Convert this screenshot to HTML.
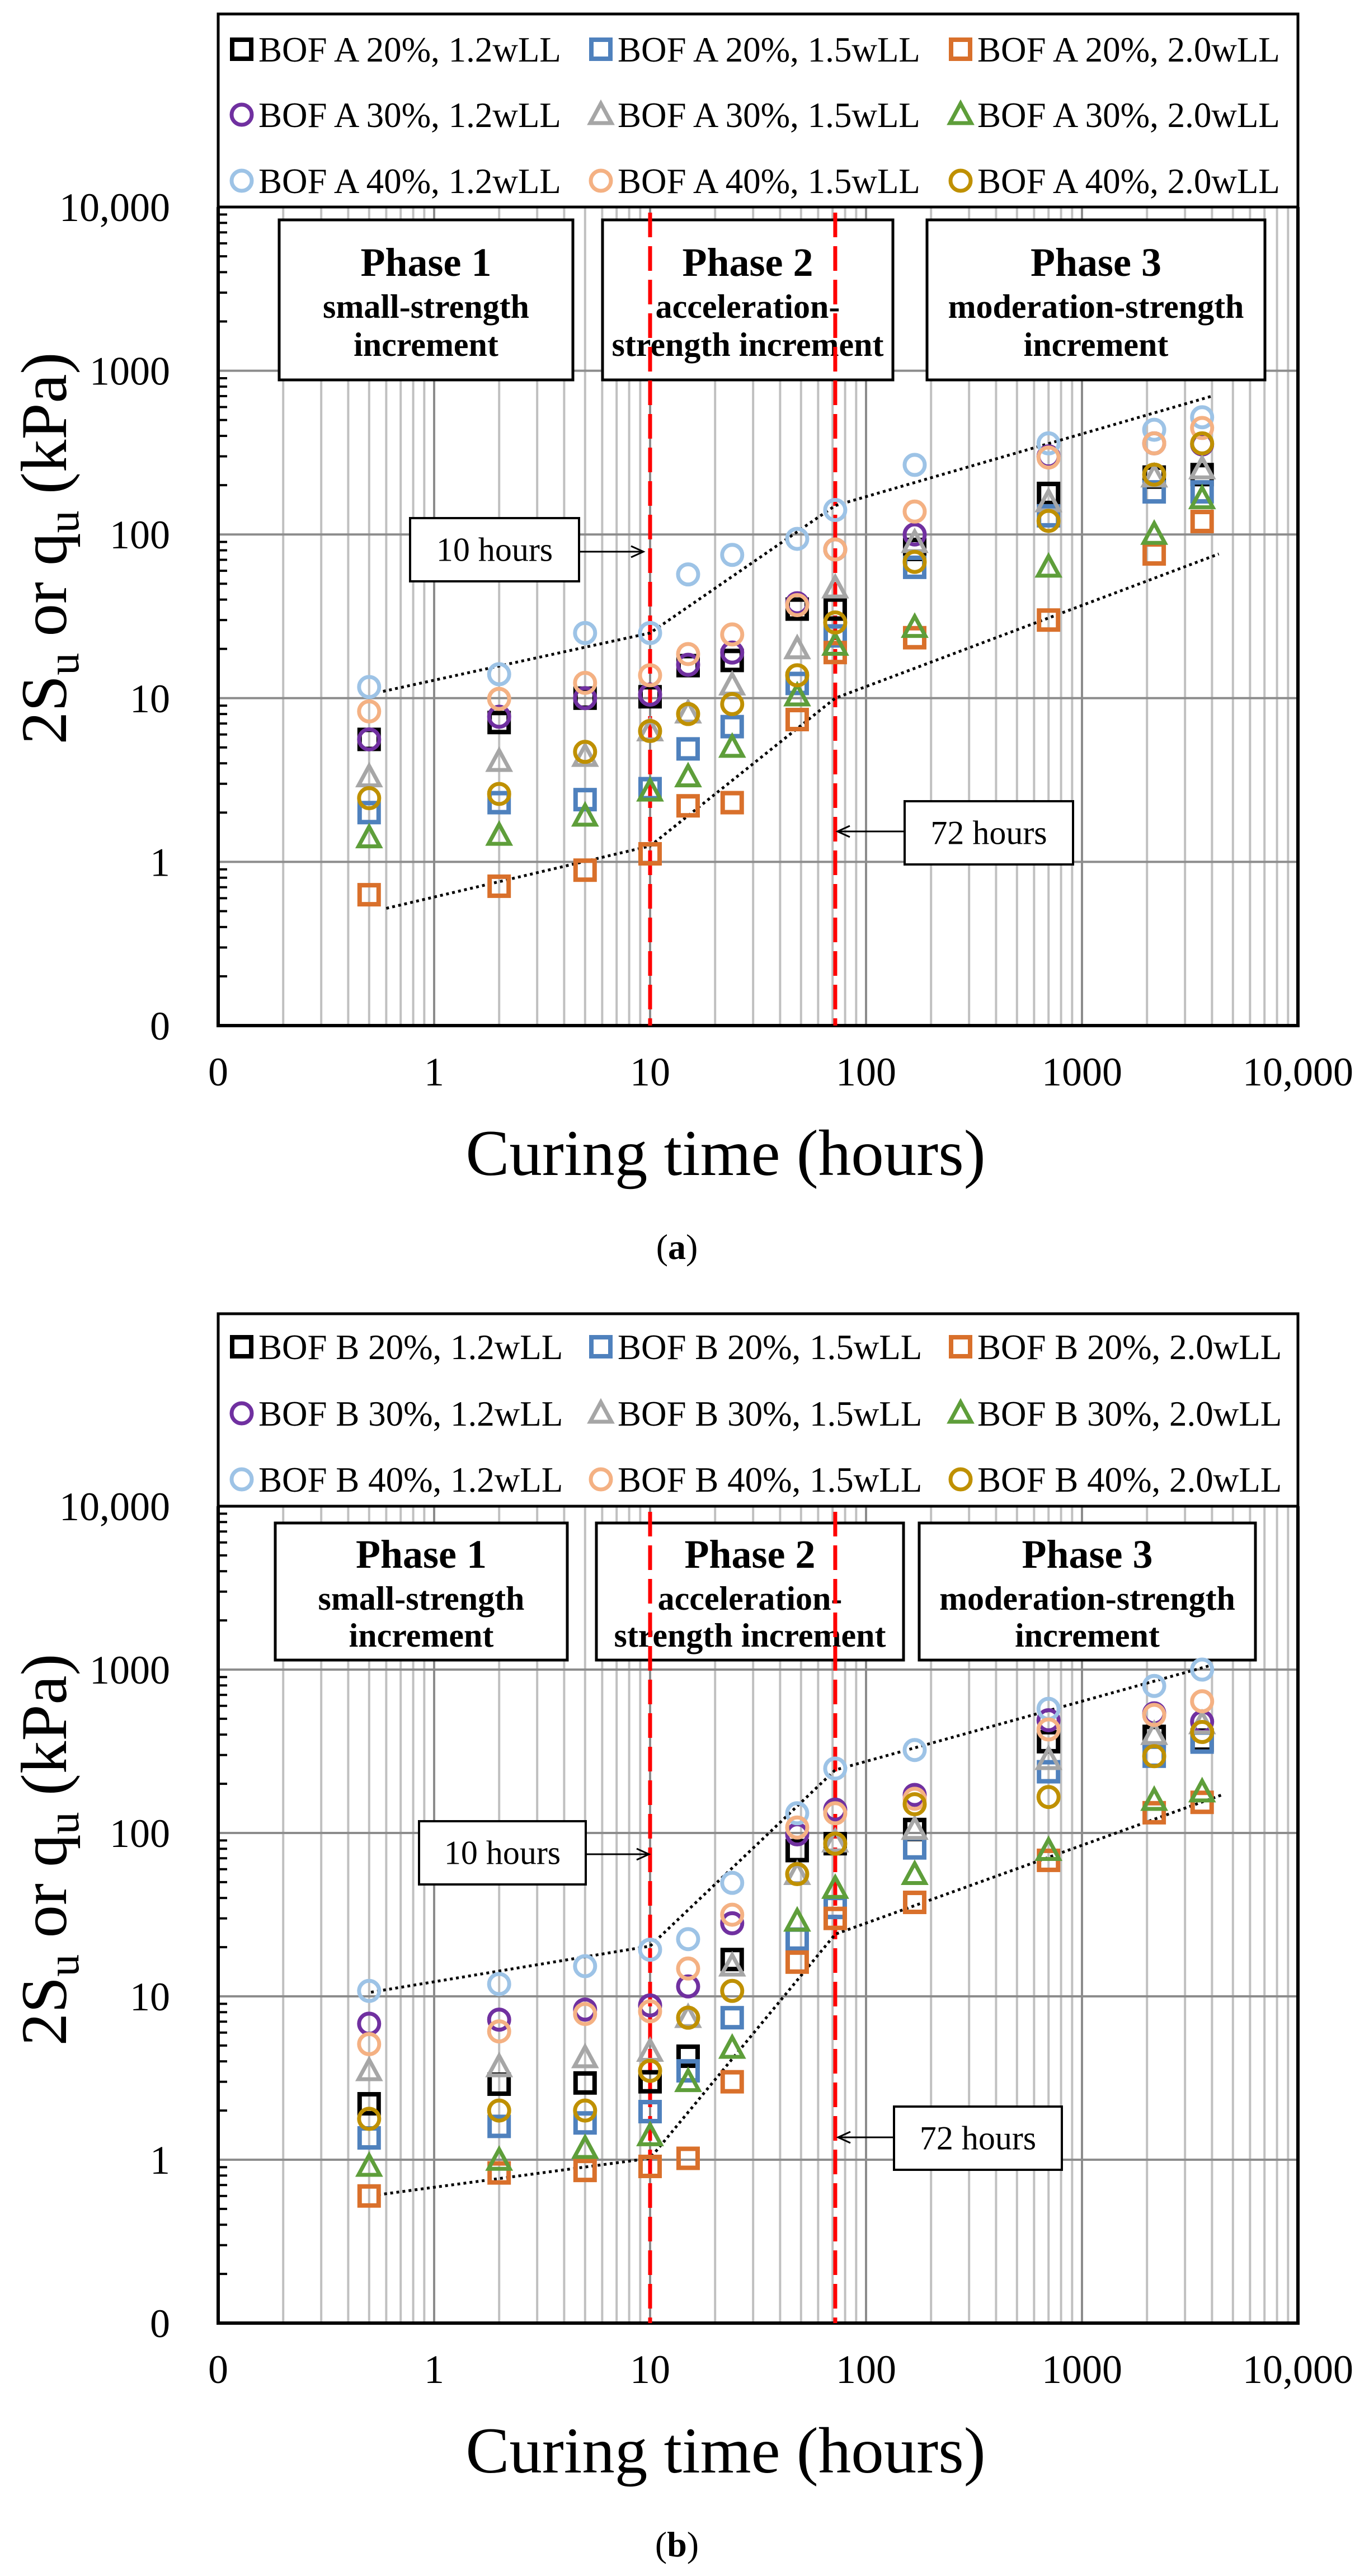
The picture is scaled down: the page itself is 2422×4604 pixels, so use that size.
<!DOCTYPE html>
<html><head><meta charset="utf-8">
<style>
html,body{margin:0;padding:0;background:#fff;}
svg{display:block;font-family:"Liberation Serif","Times New Roman",serif;}
</style></head>
<body>
<svg id="svg" width="2422" height="4604" viewBox="0 0 2422 4604" xmlns="http://www.w3.org/2000/svg"></svg>
<script>
// ---- data ----
const times = [0.5, 2, 5, 10, 15, 24, 48, 72, 168, 700, 2160, 3600];
const xTickLabels = ["0", "1", "10", "100", "1000", "10,000"];
const yTickLabels = ["0", "1", "10", "100", "1000", "10,000"];
const seriesColors = ["#000000","#4F81BD","#D9702B","#7030A0","#A6A6A6","#5E9E3A","#9DC3E6","#F4B183","#BF9000"];
const seriesShapes = ["sq","sq","sq","ci","tr","tr","ci","ci","ci"];
const legendA = ["BOF A 20%, 1.2wLL","BOF A 20%, 1.5wLL","BOF A 20%, 2.0wLL","BOF A 30%, 1.2wLL","BOF A 30%, 1.5wLL","BOF A 30%, 2.0wLL","BOF A 40%, 1.2wLL","BOF A 40%, 1.5wLL","BOF A 40%, 2.0wLL"];
const legendB = ["BOF B 20%, 1.2wLL","BOF B 20%, 1.5wLL","BOF B 20%, 2.0wLL","BOF B 30%, 1.2wLL","BOF B 30%, 1.5wLL","BOF B 30%, 2.0wLL","BOF B 40%, 1.2wLL","BOF B 40%, 1.5wLL","BOF B 40%, 2.0wLL"];
// chart (a)
const a20_12 = [5.6, 7.1, 10, 10.2, 15.8, 17, 35, 35, 81, 178, 224, 232];
const a20_15 = [2.0, 2.3, 2.4, 2.8, 4.9, 6.7, 12.3, 24, 63, 130, 182, 182];
const a20_20 = [0.63, 0.71, 0.89, 1.12, 2.2, 2.3, 7.4, 19, 23.4, 30, 76, 120];
const a30_12 = [5.6, 7.7, 10, 10.5, 16, 19, 38, 81, 100, 300, 360, 355];
const a30_15 = [3.3, 4.1, 4.4, 6.3, 8.1, 12, 20, 47, 89, 158, 224, 251];
const a30_20 = [1.4, 1.45, 1.9, 2.7, 3.3, 5.0, 10.3, 21, 27, 63, 100, 165];
const a40_12 = [11.7, 14, 25, 25, 57, 75, 94, 141, 266, 360, 436, 520];
const a40_15 = [8.3, 9.9, 12.4, 13.8, 18.6, 24.5, 37, 81, 138, 295, 360, 447];
const a40_20 = [2.45, 2.6, 4.7, 6.3, 8.0, 9.2, 13.8, 29, 68, 121, 232, 360];
const aUpperX = [0.58, 10, 72, 4000];
const aUpperY = [11, 25, 150, 700];
const aLowerX = [0.6, 10, 72, 4300];
const aLowerY = [0.52, 1.25, 10, 76];
// chart (b)
const b20_12 = [2.2, 2.9, 2.95, 3.0, 4.3, 16.8, 78, 86, 105, 362, 390, 370];
const b20_15 = [1.36, 1.6, 1.68, 1.97, 3.5, 7.4, 22.4, 35, 81, 237, 295, 360];
const b20_20 = [0.6, 0.83, 0.86, 0.91, 1.02, 3.0, 16.2, 30, 37.6, 68, 133, 154];
const b30_12 = [6.8, 7.2, 8.3, 8.8, 11.5, 28, 98, 139, 171, 490, 540, 480];
const b30_15 = [3.5, 3.7, 4.2, 4.6, 7.4, 15.3, 55.6, 88, 105, 281, 400, 465];
const b30_20 = [0.91, 0.99, 1.17, 1.4, 3.0, 4.8, 28.8, 45.7, 55.6, 78, 158, 178];
const b40_12 = [10.8, 11.9, 15.3, 19.3, 22.4, 49.5, 132, 248, 322, 575, 794, 1000];
const b40_15 = [5.1, 6.1, 7.8, 8.1, 14.8, 31.6, 108, 132, 162, 430, 528, 640];
const b40_20 = [1.78, 2.0, 2.0, 3.5, 7.4, 10.8, 56, 86, 150, 166, 295, 415];
const bUpperX = [0.51, 10, 72, 3940];
const bUpperY = [10.6, 20.3, 243, 1060];
const bLowerX = [0.55, 10, 72, 4440];
const bLowerY = [0.61, 1.02, 24, 171];

const NS = "http://www.w3.org/2000/svg";
const svg = document.getElementById("svg");
function mk(tag, attrs, parent){
  const e = document.createElementNS(NS, tag);
  for (const k in attrs) e.setAttribute(k, attrs[k]);
  (parent||svg).appendChild(e);
  return e;
}
const L = 390, R = 2320;
function xs(v){ return L + (Math.log10(v) + 1) * (R - L) / 5; }

function marker(g, shape, color, x, y){
  let e;
  if (shape === "sq") e = mk("rect", {x:x-17, y:y-17, width:34, height:34, fill:"none", stroke:color, "stroke-width":8}, g);
  else if (shape === "ci") e = mk("circle", {cx:x, cy:y, r:18, fill:"none", stroke:color, "stroke-width":7}, g);
  else e = mk("polygon", {points:`${x},${y-20} ${x+19},${y+15} ${x-19},${y+15}`, fill:"none", stroke:color, "stroke-width":7, "stroke-linejoin":"miter"}, g);
  return e;
}

function drawChart(cfg){
  const T = cfg.top, B = cfg.bottom;
  function ys(v){ return B - (Math.log10(v) + 1) * (B - T) / 5; }
  const g = mk("g", {});
  
  

  // vertical gridlines
  const grid = mk("g", {}, g);
  
  
  for (let d = -1; d < 4; d++){
    for (let m = 1; m <= 9; m++){
      const v = m * Math.pow(10, d);
      const x = xs(v);
      if (m === 1 && d === -1) continue;
      const line = mk("line", {x1:x, x2:x, y1:T, y2:B, stroke: m===1 ? "#8c8c8c" : "#c0c0c0", "stroke-width": 4}, grid);
      
      
    }
  }
  // horizontal major gridlines + minor ticks
  for (let d = -1; d <= 4; d++){
    const y = ys(Math.pow(10, d));
    if (d > -1 && d < 4){
      const hl = mk("line", {x1:L, x2:R, y1:y, y2:y, stroke:"#8c8c8c", "stroke-width":4}, grid);
      
      
    }
    if (d < 4){
      for (let m = 2; m <= 9; m++){
        const yy = ys(m * Math.pow(10, d));
        const tk = mk("line", {x1:L, x2:L+16, y1:yy, y2:yy, stroke:"#000", "stroke-width":4}, g);
        
        
      }
    }
    const lab = mk("text", {x:304, y:y+25, "text-anchor":"end", "font-size":72}, g);
    lab.textContent = yTickLabels[d+1];
    
    
  }
  // x tick labels
  for (let d = -1; d <= 4; d++){
    const x = xs(Math.pow(10, d));
    const lab = mk("text", {x:x, y:B+107, "text-anchor":"middle", "font-size":72}, g);
    lab.textContent = xTickLabels[d+1];
    
    
  }
  // axes frame
  const ax = mk("path", {d:`M${L},${T} L${L},${B} L${R},${B} L${R},${T}`, fill:"none", stroke:"#000", "stroke-width":6}, g);
  
  

  // phase boxes
  cfg.phases.forEach((p, i) => {
    const pg = mk("g", {}, g);
    
    
    mk("rect", {x:p.x1, y:cfg.boxTop, width:p.x2-p.x1, height:cfg.boxH, fill:"#fff", stroke:"#000", "stroke-width":5}, pg);
    const cx = (p.x1+p.x2)/2;
    const t1 = mk("text", {x:cx, y:cfg.boxTop+cfg.l1, "text-anchor":"middle", "font-size":72, "font-weight":"bold"}, pg);
    t1.textContent = p.t1;
    const t2 = mk("text", {x:cx, y:cfg.boxTop+cfg.l2, "text-anchor":"middle", "font-size":60, "font-weight":"bold"}, pg);
    t2.textContent = p.t2;
    const t3 = mk("text", {x:cx, y:cfg.boxTop+cfg.l3, "text-anchor":"middle", "font-size":60, "font-weight":"bold"}, pg);
    t3.textContent = p.t3;
  });

  // red dashed lines
  [10, 72].forEach(v => {
    const x = xs(v);
    const rl = mk("line", {x1:x, x2:x, y1:T+10, y2:B, stroke:"#FF0000", "stroke-width":7, "stroke-dasharray":"44,16"}, g);
    
    
  });

  // trend lines
  [[cfg.upX, cfg.upY, 'upper-trend-line'], [cfg.loX, cfg.loY, 'lower-trend-line']].forEach(([X, Y, nm]) => {
    const pts = X.map((v, i) => xs(v) + "," + ys(Y[i])).join(" ");
    const pl = mk("polyline", {points:pts, fill:"none", stroke:"#000", "stroke-width":5, "stroke-dasharray":"5,6"}, g);
    
    
  });

  // series
  cfg.series.forEach((arr, si) => {
    const sg = mk("g", {}, g);
    
    
    arr.forEach((v, i) => {
      const m = marker(sg, seriesShapes[si], seriesColors[si], xs(times[i]), ys(v));
      
      
    });
  });

  // annotations
  cfg.notes.forEach(n => {
    const ng = mk("g", {}, g);
    
    
    mk("rect", {x:n.x1, y:n.y1, width:n.x2-n.x1, height:n.y2-n.y1, fill:"#fff", stroke:"#000", "stroke-width":4}, ng);
    const t = mk("text", {x:(n.x1+n.x2)/2, y:(n.y1+n.y2)/2+20, "text-anchor":"middle", "font-size":60}, ng);
    t.textContent = n.text;
    mk("line", {x1:n.ax1, x2:n.ax2, y1:n.ay, y2:n.ay, stroke:"#000", "stroke-width":3}, ng);
    const dir = n.ax2 > n.ax1 ? 1 : -1;
    mk("path", {d:`M${n.ax2-dir*22},${n.ay-10} L${n.ax2},${n.ay} L${n.ax2-dir*22},${n.ay+10}`, fill:"none", stroke:"#000", "stroke-width":3}, ng);
  });

  // legend
  const lg = mk("g", {}, g);
  
  
  mk("rect", {x:L, y:cfg.legTop, width:R-L, height:T-cfg.legTop, fill:"#fff", stroke:"#000", "stroke-width":5}, lg);
  const colX = [432, 1074, 1717];
  cfg.legend.forEach((txt, i) => {
    const row = Math.floor(i/3), col = i % 3;
    const y = T + cfg.legRows[row];
    const eg = mk("g", {}, lg);
    
    
    marker(eg, seriesShapes[i], seriesColors[i], colX[col], y);
    const t = mk("text", {x:colX[col]+30, y:y+22, "font-size":63}, eg);
    t.textContent = txt;
  });

  // axis titles
  const xt = mk("text", {x:1297, y:B+267, "text-anchor":"middle", "font-size":117}, g);
  xt.textContent = "Curing time (hours)";
  
  
  const cy = cfg.ytitleY;
  const yt = mk("text", {x:0, y:0, "text-anchor":"middle", "font-size":117, transform:`translate(118,${cy}) rotate(-90)`}, g);
  yt.innerHTML = '2S<tspan font-size="80" dy="22">u</tspan><tspan dy="-22"> or q</tspan><tspan font-size="80" dy="22">u</tspan><tspan dy="-22"> (kPa)</tspan>';
  
  
  const cap = mk("text", {x:1210, y:B+417, "text-anchor":"middle", "font-size":64}, g);
  cap.innerHTML = '(<tspan font-weight="bold">' + cfg.caption + '</tspan>)';
  
  
}

const phasesA = [
  {x1:499, x2:1024, t1:"Phase 1", t2:"small-strength", t3:"increment"},
  {x1:1077, x2:1596, t1:"Phase 2", t2:"acceleration-", t3:"strength increment"},
  {x1:1657, x2:2261, t1:"Phase 3", t2:"moderation-strength", t3:"increment"}];
const phasesB = [
  {x1:492, x2:1014, t1:"Phase 1", t2:"small-strength", t3:"increment"},
  {x1:1066, x2:1615, t1:"Phase 2", t2:"acceleration-", t3:"strength increment"},
  {x1:1643, x2:2244, t1:"Phase 3", t2:"moderation-strength", t3:"increment"}];

drawChart({name:"chart-a", top:370, bottom:1833, legTop:25, legRows:[-282,-165,-47],
  boxTop:393, boxH:286, l1:100, l2:175, l3:243, phases:phasesA,
  series:[a20_12,a20_15,a20_20,a30_12,a30_15,a30_20,a40_12,a40_15,a40_20], legend:legendA,
  upX:aUpperX, upY:aUpperY, loX:aLowerX, loY:aLowerY, ytitleY:980, caption:"a",
  notes:[{name:"annotation-10-hours", text:"10 hours", x1:733, x2:1035, y1:926, y2:1039, ax1:1035, ax2:1150, ay:986},
         {name:"annotation-72-hours", text:"72 hours", x1:1617, x2:1918, y1:1432, y2:1545, ax1:1617, ax2:1497, ay:1486}]});

drawChart({name:"chart-b", top:2692, bottom:4152, legTop:2348, legRows:[-285,-166,-48],
  boxTop:2722, boxH:245, l1:80, l2:155, l3:221, phases:phasesB,
  series:[b20_12,b20_15,b20_20,b30_12,b30_15,b30_20,b40_12,b40_15,b40_20], legend:legendB,
  upX:bUpperX, upY:bUpperY, loX:bLowerX, loY:bLowerY, ytitleY:3306, caption:"b",
  notes:[{name:"annotation-10-hours", text:"10 hours", x1:749, x2:1047, y1:3255, y2:3368, ax1:1047, ax2:1160, ay:3314},
         {name:"annotation-72-hours", text:"72 hours", x1:1598, x2:1898, y1:3765, y2:3878, ax1:1598, ax2:1498, ay:3820}]});
</script>
</body></html>
